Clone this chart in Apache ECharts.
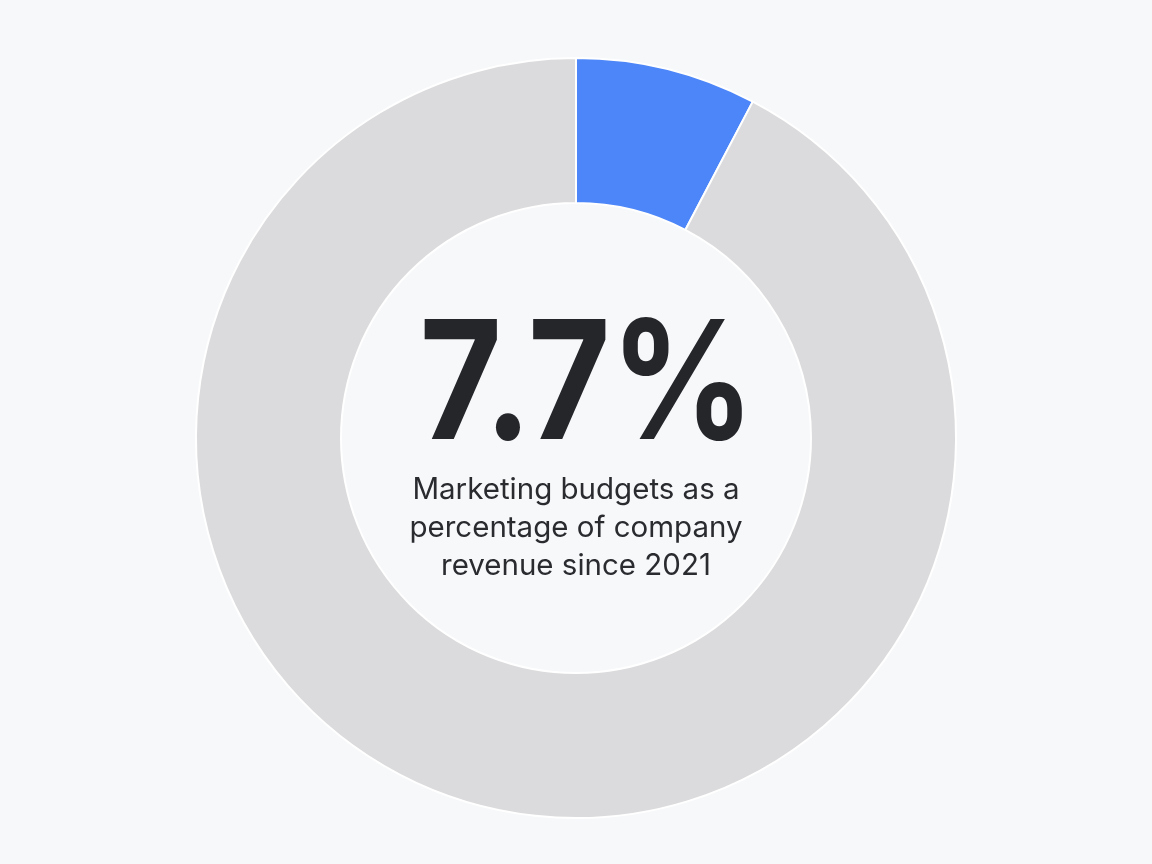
<!DOCTYPE html>
<html>
<head>
<meta charset="utf-8">
<script src="https://cdn.jsdelivr.net/npm/echarts@6/dist/echarts.min.js"></script>
<style>
html,body{margin:0;padding:0;background:#f7f8fa;}
#c{width:1152px;height:864px;}
</style>
</head>
<body>
<div id="c"></div>
<script>
const categories = ['Marketing budget', 'Rest of revenue'];
const values = [7.7, 92.3];
const headline = '7.7%';
const subtitleLines = ['Marketing budgets as a', 'percentage of company', 'revenue since 2021'];

const chart = echarts.init(document.getElementById('c'));
chart.setOption({
  backgroundColor: '#f7f8fa',
  animation: false,
  series: [{
    type: 'pie',
    center: [576, 438],
    radius: [235, 380],
    startAngle: 90,
    clockwise: true,
    label: { show: false },
    labelLine: { show: false },
    emphasis: { disabled: true },
    itemStyle: { borderColor: '#ffffff', borderWidth: 2 },
    data: categories.map((n, i) => ({
      name: n, value: values[i],
      itemStyle: { color: i === 0 ? '#4d86f8' : '#dbdbdd' }
    }))
  }],
  graphic: [
    {
      type: 'text', x: 587, y: 307, scaleX: 0.86,
      style: { text: headline, font: 'bold 165px Inter', fill: '#25262a', align: 'center', verticalAlign: 'top' }
    },
    {
      type: 'text', left: 'center', top: 471,
      style: { text: subtitleLines.join('\n'), font: '29.5px Inter', lineHeight: 38, fill: '#2a2b2f', textAlign: 'center' }
    }
  ]
});
</script>
</body>
</html>
